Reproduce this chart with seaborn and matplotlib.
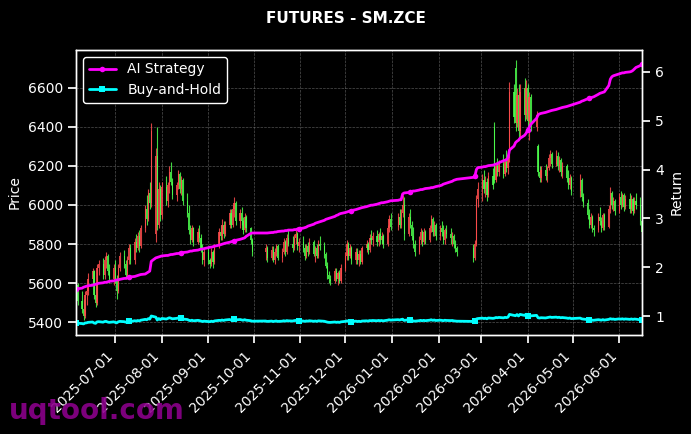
import numpy as np
import pandas as pd
import matplotlib
matplotlib.use("Agg")
import matplotlib.pyplot as plt
import matplotlib.dates as mdates
import seaborn as sns
from matplotlib.lines import Line2D

# ---------------- data ----------------
start_date = "2025-06-05"
end_date = "2026-06-16"
holidays = ["2025-10-01", "2025-10-02", "2025-10-03", "2025-10-06", "2025-10-07", "2025-10-08",
            "2026-01-01", "2026-01-02",
            "2026-02-16", "2026-02-17", "2026-02-18", "2026-02-19", "2026-02-20", "2026-02-23",
            "2026-04-06", "2026-05-01", "2026-05-04", "2026-05-05"]

opens = [
    # 2025-06
    5520,5590,5510,5470,5430,5540,5560,5620,5660,5540,5500,5680,5700,5640,5720,5740,5660,5620,
    # 2025-07
    5680,5620,5560,5680,5740,5700,5640,5720,5780,5720,5810,5780,5840,5790,5880,5980,5930,6060,6010,5850,6250,5900,6080,
    # 2025-08
    5950,6090,6020,6100,6170,6120,6050,6100,6160,6080,6130,6020,5960,5870,5820,5880,5810,5860,5830,5780,5720,
    # 2025-09
    5760,5720,5700,5760,5710,5790,5860,5840,5900,5850,5900,5960,5900,5980,6010,5920,5960,5920,5870,5940,5880,5820,
    # 2025-10
    5760,5780,5730,5770,5720,5760,5790,5730,5760,5810,5760,5830,5800,5780,5830,5850,5790,
    # 2025-11
    5810,5780,5740,5790,5760,5810,5750,5780,5740,5800,5790,5750,5690,5640,5620,5610,5660,5620,5650,5610,
    # 2025-12
    5680,5740,5800,5740,5780,5720,5760,5720,5750,5710,5780,5800,5770,5830,5820,5840,5810,5850,5820,5840,5800,5880,5930,
    # 2026-01
    5890,5940,5900,5960,6000,5850,5940,5900,5840,5800,5760,5820,5860,5810,5860,5820,5880,5930,5860,5900,
    # 2026-02
    5840,5880,5860,5820,5870,5850,5830,5840,5800,5780,5780,5730,5800,6030,
    # 2026-03
    6080,6130,6080,6120,6050,6150,6400,6130,6200,6170,6210,6160,6220,6190,6240,6580,6700,6420,6560,6380,6600,6460,
    # 2026-04
    6600,6430,6550,6400,6300,6170,6140,6180,6150,6190,6240,6260,6210,6250,6200,6230,6170,6200,6140,6100,6140,
    # 2026-05
    6070,6130,6040,6010,5950,5900,5940,5880,5870,5940,5920,5880,5950,5890,5980,6060,6000,6020,
    # 2026-06
    5970,6040,6000,6050,5990,6030,5980,6030,5970,6020,6000,5920,
]
highs = [
    5610,5600,5560,5520,5560,5580,5650,5680,5670,5600,5700,5720,5730,5740,5760,5750,5700,5700,
    5720,5640,5700,5760,5770,5720,5740,5800,5800,5830,5850,5860,5870,5900,6000,6050,6080,6120,6420,6290,6400,6120,6100,
    6120,6150,6120,6200,6220,6140,6120,6180,6170,6150,6140,6060,6000,5900,5900,5890,5880,5900,5850,5800,5780,
    5790,5730,5780,5770,5800,5880,5900,5930,5920,5920,5980,5980,6000,6040,6020,5980,5990,5940,5960,5950,5890,5830,
    5800,5790,5790,5790,5780,5800,5800,5780,5830,5820,5850,5870,5840,5850,5870,5860,5830,
    5840,5800,5800,5810,5830,5820,5790,5800,5820,5840,5810,5760,5710,5660,5640,5680,5680,5660,5670,5700,
    5760,5820,5810,5800,5790,5780,5780,5770,5770,5790,5820,5810,5850,5870,5860,5870,5860,5880,5860,5850,5900,5950,5960,
    5960,5980,5980,6050,6040,5960,5980,5920,5890,5820,5840,5880,5870,5880,5870,5900,5950,5940,5920,5910,
    5900,5920,5900,5880,5900,5880,5860,5850,5820,5790,5800,5820,6050,6120,
    6160,6180,6150,6140,6170,6190,6425,6220,6240,6230,6260,6240,6280,6260,6630,6620,6740,6600,6620,6620,6650,6640,
    6620,6580,6570,6480,6310,6200,6200,6210,6200,6260,6280,6270,6280,6270,6250,6240,6220,6210,6180,6160,6150,
    6160,6140,6060,6030,5980,5960,5950,5900,5960,5990,5940,5960,5960,6000,6090,6070,6040,6030,
    6060,6070,6060,6060,6050,6060,6050,6040,6040,6060,6040,5940,
]
lows = [
    5500,5490,5450,5410,5420,5490,5540,5600,5520,5480,5490,5640,5620,5620,5680,5640,5600,5590,
    5600,5520,5550,5660,5680,5620,5630,5700,5700,5700,5760,5770,5760,5780,5860,5900,5920,5980,5990,5810,5870,5880,5920,
    5930,6000,5990,6060,6100,6030,6020,6080,6060,6050,6000,5940,5850,5800,5810,5790,5800,5810,5760,5700,5690,
    5700,5680,5690,5680,5700,5780,5820,5820,5830,5840,5880,5880,5890,5940,5900,5880,5900,5850,5860,5860,5800,5740,
    5720,5710,5720,5710,5700,5740,5720,5710,5750,5740,5750,5790,5760,5770,5800,5770,5760,
    5760,5720,5730,5740,5750,5740,5710,5730,5730,5770,5730,5680,5620,5600,5590,5600,5610,5590,5600,5600,
    5660,5720,5720,5730,5700,5700,5700,5690,5700,5700,5760,5750,5760,5800,5790,5790,5790,5800,5800,5780,5790,5860,5870,
    5870,5880,5880,5940,5820,5840,5880,5820,5780,5740,5750,5800,5790,5800,5800,5810,5860,5840,5840,5820,
    5820,5840,5800,5800,5830,5800,5790,5780,5760,5740,5710,5720,5790,5990,
    6020,6060,6040,6020,6040,6080,6110,6120,6150,6150,6140,6150,6170,6160,6220,6420,6380,6400,6340,6350,6430,6440,
    6400,6330,6380,6380,6150,6120,6120,6130,6120,6180,6200,6190,6200,6180,6170,6150,6140,6120,6080,6080,6050,
    6040,6020,5990,5930,5880,5880,5860,5840,5860,5900,5860,5870,5870,5880,5960,5980,5970,5950,
    5960,5980,5990,5970,5980,5960,5960,5950,5960,5980,5900,5840,
]
closes = [
    5590,5510,5470,5430,5540,5560,5620,5660,5540,5500,5680,5700,5640,5720,5740,5660,5620,5680,
    5620,5560,5680,5740,5700,5640,5720,5780,5720,5810,5780,5840,5790,5880,5980,5930,6060,6010,6380,6250,5900,6080,5950,
    6090,6020,6100,6170,6120,6050,6100,6160,6080,6130,6020,5960,5870,5820,5880,5810,5860,5830,5780,5720,5760,
    5720,5700,5760,5710,5790,5860,5840,5900,5850,5900,5960,5900,5980,6010,5920,5960,5920,5870,5940,5880,5820,5760,
    5780,5730,5770,5720,5760,5790,5730,5760,5810,5760,5830,5800,5780,5830,5850,5790,5810,
    5780,5740,5790,5760,5810,5750,5780,5740,5800,5790,5750,5690,5640,5620,5610,5660,5620,5650,5610,5680,
    5740,5800,5740,5780,5720,5760,5720,5750,5710,5780,5800,5770,5830,5820,5840,5810,5850,5820,5840,5800,5880,5930,5890,
    5940,5900,5960,6000,5850,5940,5900,5840,5800,5760,5820,5860,5810,5860,5820,5880,5930,5860,5900,5840,
    5880,5860,5820,5870,5850,5830,5840,5800,5780,5760,5730,5800,6030,6080,
    6130,6080,6120,6050,6150,6100,6130,6200,6170,6210,6160,6220,6190,6240,6580,6450,6420,6560,6380,6580,6460,6600,
    6430,6550,6400,6460,6170,6140,6180,6150,6190,6240,6260,6210,6250,6200,6230,6170,6200,6140,6100,6140,6070,
    6130,6040,6010,5950,5900,5940,5880,5870,5940,5920,5880,5950,5890,5980,6060,6000,6020,5970,
    6040,6000,6050,5990,6030,5980,6030,5970,6020,6000,5920,5860,
]
ai_strategy = [
    1.55,1.56,1.57,1.59,1.60,1.61,1.62,1.63,1.64,1.65,1.66,1.67,1.68,1.69,1.69,1.70,1.71,1.72,
    1.73,1.74,1.74,1.75,1.77,1.77,1.78,1.79,1.80,1.81,1.82,1.83,1.84,1.85,1.86,1.88,1.90,1.92,2.12,2.19,2.20,2.21,2.22,
    2.23,2.24,2.24,2.25,2.26,2.26,2.28,2.28,2.29,2.30,2.30,2.31,2.32,2.33,2.33,2.34,2.35,2.36,2.37,2.37,2.38,
    2.40,2.41,2.41,2.42,2.43,2.45,2.46,2.47,2.48,2.49,2.51,2.52,2.53,2.54,2.55,2.57,2.58,2.59,2.60,2.63,2.69,2.70,
    2.70,2.70,2.71,2.71,2.72,2.72,2.73,2.74,2.74,2.75,2.75,2.76,2.76,2.77,2.77,2.78,2.79,
    2.80,2.81,2.82,2.84,2.85,2.88,2.90,2.91,2.92,2.93,2.96,2.98,2.99,3.00,3.01,3.04,3.06,3.07,3.09,3.10,
    3.12,3.13,3.14,3.15,3.16,3.18,3.19,3.20,3.21,3.22,3.24,3.25,3.26,3.27,3.27,3.29,3.30,3.31,3.32,3.32,3.34,3.35,3.36,
    3.37,3.38,3.38,3.50,3.52,3.53,3.54,3.55,3.56,3.56,3.58,3.59,3.59,3.60,3.61,3.62,3.63,3.63,3.64,3.65,
    3.67,3.68,3.70,3.71,3.72,3.75,3.76,3.78,3.79,3.80,3.84,3.86,4.00,4.04,
    4.05,4.06,4.06,4.07,4.08,4.09,4.10,4.11,4.12,4.14,4.18,4.19,4.20,4.24,4.40,4.48,4.55,4.58,4.60,4.64,4.70,4.74,
    4.80,4.86,4.92,5.05,5.12,5.14,5.15,5.17,5.18,5.19,5.20,5.21,5.23,5.24,5.25,5.26,5.27,5.29,5.30,5.31,5.32,
    5.38,5.40,5.41,5.45,5.46,5.47,5.48,5.49,5.54,5.56,5.57,5.58,5.59,5.72,5.85,5.90,5.92,5.93,
    5.96,5.97,5.98,5.98,5.99,6.00,6.01,6.03,6.06,6.09,6.13,6.16,
]
buy_and_hold = [
    .865,.852,.845,.838,.857,.860,.870,.877,.857,.850,.880,.884,.874,.887,.890,.877,.870,.880,
    .870,.860,.880,.890,.884,.874,.887,.897,.887,.903,.897,.908,.899,.914,.931,.923,.945,.937,1.000,.977,.918,.948,.926,
    .950,.938,.952,.964,.955,.943,.952,.962,.948,.957,.938,.928,.913,.904,.914,.902,.911,.906,.897,.887,.894,
    .887,.884,.894,.885,.899,.911,.908,.918,.909,.918,.928,.918,.931,.937,.921,.928,.921,.913,.925,.914,.904,.894,
    .897,.889,.896,.887,.894,.899,.889,.894,.903,.894,.906,.901,.897,.906,.909,.899,.903,
    .897,.890,.899,.894,.903,.892,.897,.890,.901,.899,.892,.882,.874,.870,.869,.877,.870,.875,.869,.880,
    .890,.901,.890,.897,.887,.894,.887,.892,.885,.897,.901,.896,.906,.904,.908,.903,.909,.904,.908,.901,.914,.923,.916,
    .925,.918,.928,.935,.909,.925,.918,.908,.901,.894,.904,.911,.903,.911,.904,.914,.923,.911,.918,.908,
    .914,.911,.904,.913,.909,.906,.908,.901,.897,.894,.889,.901,.940,.948,
    .957,.948,.955,.943,.960,.952,.957,.969,.964,.971,.962,.972,.967,.976,1.033,1.011,1.006,1.030,1.000,1.033,1.013,1.037,
    1.008,1.028,1.003,1.013,.964,.959,.965,.960,.967,.976,.979,.971,.977,.969,.974,.964,.969,.959,.952,.959,.947,
    .957,.942,.937,.926,.918,.925,.914,.913,.925,.921,.914,.926,.916,.931,.945,.935,.938,.930,
    .942,.935,.943,.933,.940,.931,.940,.930,.938,.935,.921,.911,
]
title = "FUTURES - SM.ZCE"
watermark = "uqtool.com"

# ---------------- build table ----------------
days = pd.bdate_range(start_date, end_date)
days = days[~days.isin(pd.to_datetime(holidays))]
df = pd.DataFrame({"date": days, "open": opens, "high": highs, "low": lows,
                   "close": closes, "ai": ai_strategy, "bh": buy_and_hold})

# ---------------- style ----------------
sns.set_theme(style="ticks", rc={
    "figure.facecolor": "black", "axes.facecolor": "black", "savefig.facecolor": "black",
    "axes.edgecolor": "white", "text.color": "white", "axes.labelcolor": "white",
    "xtick.color": "white", "ytick.color": "white",
    "font.size": 10, "axes.labelsize": 10, "xtick.labelsize": 10, "ytick.labelsize": 10,
    "legend.fontsize": 10, "axes.linewidth": 1.0,
})
plt.rcParams["font.family"] = ["DejaVu Sans"]

UP = "#ff4d4d"
DOWN = "#4dff4d"

fig = plt.figure(figsize=(6.91, 4.34), dpi=100)
ax = fig.add_axes([0.110, 0.228, 0.819, 0.657])

up = df["close"] >= df["open"]
cols = np.where(up, UP, DOWN)
ax.vlines(df["date"], df["low"], df["high"], colors=cols, linewidth=0.8, alpha=0.85, zorder=2)
body_bottom = df[["open", "close"]].min(axis=1)
body_h = (df["close"] - df["open"]).abs().clip(lower=3)
ax.bar(df["date"], body_h, bottom=body_bottom, width=0.8, color=cols, alpha=0.85,
       linewidth=0, zorder=2)

ax.set_xlim(df["date"].iloc[0], df["date"].iloc[-1])
ax.set_ylim(5335, 6793)
ax.set_ylabel("Price")
ax.grid(True, color="#888888", linestyle="--", linewidth=0.5, alpha=0.6)
ax.set_axisbelow(True)
ax.xaxis.set_major_locator(mdates.MonthLocator())
ax.xaxis.set_major_formatter(mdates.DateFormatter("%Y-%m-%d"))
for lab in ax.get_xticklabels():
    lab.set_rotation(45)
    lab.set_ha("right")

ax2 = ax.twinx()
sns.lineplot(data=df, x="date", y="ai", ax=ax2, color="#ff00ff", linewidth=2,
             marker="o", markersize=4, markeredgewidth=0, markevery=25, legend=False)
sns.lineplot(data=df, x="date", y="bh", ax=ax2, color="#00ffff", linewidth=2,
             marker="s", markersize=4, markeredgewidth=0, markevery=25, legend=False)
ax2.set_ylim(0.61, 6.45)
ax2.set_ylabel("Return")
ax2.set_xlabel("")
ax.set_xlabel("")
for sp in ax2.spines.values():
    sp.set_color("white")
ax2.set_xlim(df["date"].iloc[0], df["date"].iloc[-1])

handles = [Line2D([0], [0], color="#ff00ff", lw=2, marker="o", markersize=4, markeredgewidth=0),
           Line2D([0], [0], color="#00ffff", lw=2, marker="s", markersize=4, markeredgewidth=0)]
leg = ax2.legend(handles, ["AI Strategy", "Buy-and-Hold"], loc="upper left",
                 facecolor="black", edgecolor="white", framealpha=1, labelcolor="white")

fig.suptitle(title, fontsize=11, fontweight="bold", color="white", y=0.958, va="center")
fig.text(0.013, 0.035, watermark, fontsize=20, fontweight="bold", color="#8B008B",
         alpha=0.9, zorder=0)

fig.savefig("out.png", dpi=100, facecolor="black")
